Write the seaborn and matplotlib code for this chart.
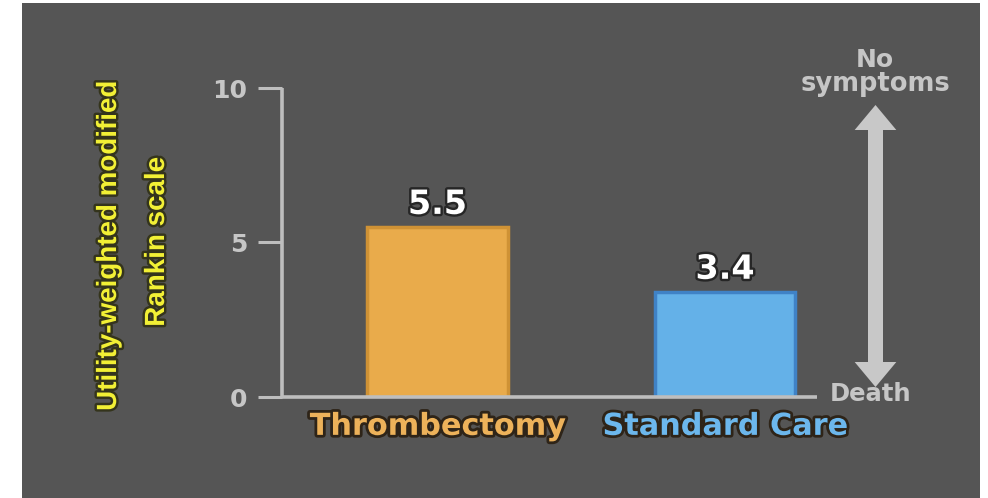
import matplotlib
matplotlib.use("Agg")
import matplotlib.pyplot as plt
import matplotlib.patheffects as pe
from matplotlib.patches import Rectangle, FancyArrowPatch, ArrowStyle
import seaborn as sns
import pandas as pd

categories = ["Thrombectomy", "Standard Care"]
values = [5.5, 3.4]
bar_colors = ["#E9AB4B", "#64B1E8"]
edge_colors = ["#CF9235", "#3F82C6"]
label_colors = ["#EDB25A", "#6CB7EC"]
yticks = [0, 5, 10]

sns.set_theme(style="white")
plt.rcParams["font.family"] = ["DejaVu Sans"]

BG = "#555555"
AX = "#BEBEBE"
GREY_TXT = "#C6C6C6"

fig = plt.figure(figsize=(9.88, 4.98), dpi=100)
fig.patch.set_facecolor("white")
fig.patches.append(Rectangle((22 / 988, 0), (980 - 22) / 988, 1 - 3 / 498,
                             transform=fig.transFigure, facecolor=BG,
                             edgecolor="none", zorder=-10))

ax = fig.add_axes([282 / 988, 1 - 397 / 498, (817 - 282) / 988, 309 / 498])
ax.set_facecolor("none")

df = pd.DataFrame({"group": categories, "score": values})
sns.barplot(data=df, x="group", y="score", hue="group", palette=bar_colors,
            width=0.49, legend=False, ax=ax, saturation=1)
for patch, ec in zip(ax.patches, edge_colors):
    patch.set_edgecolor(ec)
    patch.set_linewidth(2.5)

ax.set_xlim(-0.541, 1.32)
ax.set_ylim(0, 10)
ax.set_xlabel("")
ax.set_ylabel("")

for s in ["top", "right"]:
    ax.spines[s].set_visible(False)
for s in ["left", "bottom"]:
    ax.spines[s].set_color(AX)
    ax.spines[s].set_linewidth(2.6)
    ax.spines[s].set_capstyle("butt")

ax.set_yticks(yticks)
ax.set_yticklabels([str(t) for t in yticks])
ax.tick_params(axis="y", length=17, width=2.2, color=AX, labelcolor=GREY_TXT,
               labelsize=18, pad=8, left=True)
for lbl in ax.get_yticklabels():
    lbl.set_fontweight("bold")
ax.set_xticks([])

shadow = [pe.withStroke(linewidth=3.5, foreground="#262626")]

# value labels above bars
for i, v in enumerate(values):
    ax.text(i, v + 0.2, f"{v}", ha="center", va="bottom", fontsize=24,
            fontweight="bold", color="white", path_effects=shadow)

# category labels under bars
for i, (c, col) in enumerate(zip(categories, label_colors)):
    ax.text(i, -0.95, c, ha="center", va="center", fontsize=21.8,
            fontweight="bold", color=col,
            path_effects=[pe.withStroke(linewidth=4, foreground="#2e2418")])

# y-axis title, two lines
ylab_fx = [pe.withStroke(linewidth=3.5, foreground="#34341c")]
ylab_font = ["Liberation Sans Narrow", "Liberation Sans", "DejaVu Sans"]
fig.text(109 / 988, 1 - 246 / 498, "Utility-weighted modified",
         rotation=90, ha="center", va="center", fontsize=20,
         fontweight="bold", color="#F2F035", family=ylab_font,
         path_effects=ylab_fx)
fig.text(157 / 988, 1 - 242 / 498, "Rankin scale",
         rotation=90, ha="center", va="center", fontsize=20,
         fontweight="bold", color="#F2F035", family=ylab_font,
         path_effects=ylab_fx)

# scale direction arrow (two filled heads sharing one shaft)
head = ArrowStyle("Simple", head_length=0.9, head_width=1.5, tail_width=0.54)
mid = 1 - 246 / 498
for tip in (1 - 105 / 498, 1 - 387 / 498):
    fig.patches.append(FancyArrowPatch((875.5 / 988, mid), (875.5 / 988, tip),
                                       transform=fig.transFigure,
                                       arrowstyle=head, mutation_scale=20,
                                       linewidth=0, color="#C8C8C8",
                                       shrinkA=0, shrinkB=0))

fig.text(875 / 988, 1 - 60 / 498, "No", ha="center", va="center",
         fontsize=18, fontweight="bold", color=GREY_TXT)
fig.text(875 / 988, 1 - 84 / 498, "symptoms", ha="center", va="center",
         fontsize=18.5, fontweight="bold", color=GREY_TXT)
fig.text(871 / 988, 1 - 394 / 498, "Death", ha="center", va="center",
         fontsize=17.5, fontweight="bold", color=GREY_TXT)

fig.savefig("out.png", dpi=100, facecolor=fig.get_facecolor())
